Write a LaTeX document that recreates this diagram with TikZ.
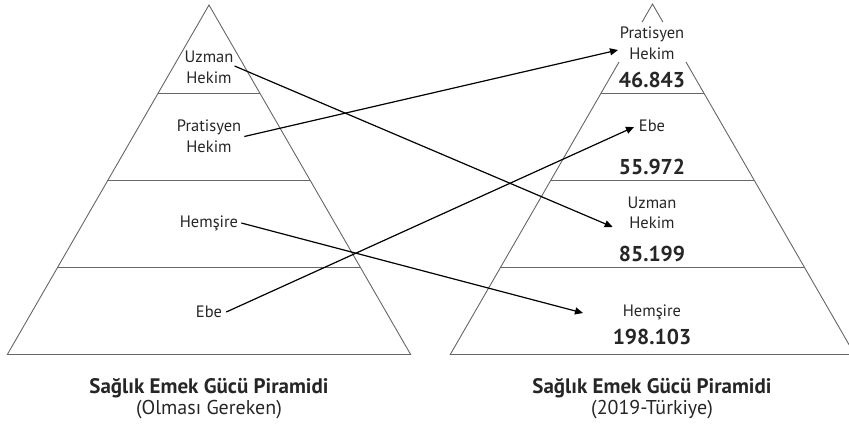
\documentclass[tikz,border=0pt]{standalone}
\usepackage{fontspec}
\setmainfont{PT Sans}
\usetikzlibrary{arrows.meta,calc}
\begin{document}
\begin{tikzpicture}[x=1pt,y=-1pt,
  pyr/.style={draw=black!60,line width=0.9pt},
  lbl/.style={align=center,font=\fontsize{16.5}{20.5}\selectfont,text=black!85,inner sep=0pt},
  num/.style={font=\fontsize{21.5}{24}\selectfont\bfseries,text=black!85,inner sep=0pt},
  ttl/.style={font=\fontsize{21}{24}\selectfont\bfseries,text=black!85,inner sep=0pt},
  sub/.style={font=\fontsize{20}{24}\selectfont,text=black!85,inner sep=0pt},
  conn/.style={draw=black,line width=1.2pt,-{Triangle[length=8pt,width=7pt]}}
]
\useasboundingbox (0,0) rectangle (849,430);
\clip (0,0) rectangle (849,430);
% left pyramid
\def\ax{209}\def\ay{5}\def\s{0.577}
\draw[pyr] (\ax,\ay) -- (\ax-\s*349.5,354.5) -- (\ax+\s*349.5,354.5) -- cycle;
\foreach \yy in {93,180,267.5}{
  \draw[pyr] (\ax-\s*\yy+\s*\ay,\yy) -- (\ax+\s*\yy-\s*\ay,\yy);
}
% right pyramid
\def\bx{652.5}\def\by{4}
\draw[pyr] (\bx-\s*18,22) -- (\bx,\by) -- (\bx+\s*18,22);
\draw[pyr] (\bx-\s*58,62) -- (\bx-\s*350.5,354.5) -- (\bx+\s*350.5,354.5) -- (\bx+\s*58,62);
\foreach \yy in {93,180,267.5}{
  \draw[pyr] (\bx-\s*\yy+\s*\by,\yy) -- (\bx+\s*\yy-\s*\by,\yy);
}
% left labels
\node[lbl] (lU) at (209,67.5) {Uzman\\Hekim};
\node[lbl] (lP) at (209,136.5) {Pratisyen\\Hekim};
\node[lbl] (lH) at (209,223) {Hemşire};
\node[lbl] (lE) at (209,312) {Ebe};
% right labels
\node[lbl] (rP) at (652,43.5) {Pratisyen\\Hekim};
\node[num] (n1) at (652,80) {46.843};
\node[lbl] (rE) at (652,126) {Ebe};
\node[num] (n2) at (652,167) {55.972};
\node[lbl] (rU) at (652,213) {Uzman\\Hekim};
\node[num] (n3) at (652,254) {85.199};
\node[lbl] (rH) at (652,312) {Hemşire};
\node[num] (n4) at (652,337) {198.103};
% titles
\node[ttl] (t1) at (209,388) {Sağlık Emek Gücü Piramidi};
\node[sub] (s1) at (209,410) {(Olması Gereken)};
\node[ttl] (t2) at (652,388) {Sağlık Emek Gücü Piramidi};
\node[sub] (s2) at (652,410) {(2019-Türkiye)};
% arrow tips
\coordinate (tP) at (618,50);
\coordinate (tE) at (634,127);
\coordinate (tU) at (612.7,227);
\coordinate (tH) at (583,313);
% connectors
\draw[conn] ([xshift=1pt,yshift=1.5pt]lU.east) -- (tU);
\draw[conn] ([xshift=3pt]lP.east) -- (tP);
\draw[conn] ([xshift=3pt]lH.east) -- (tH);
\draw[conn] ([xshift=4pt]lE.east) -- (tE);
\end{tikzpicture}
\end{document}
